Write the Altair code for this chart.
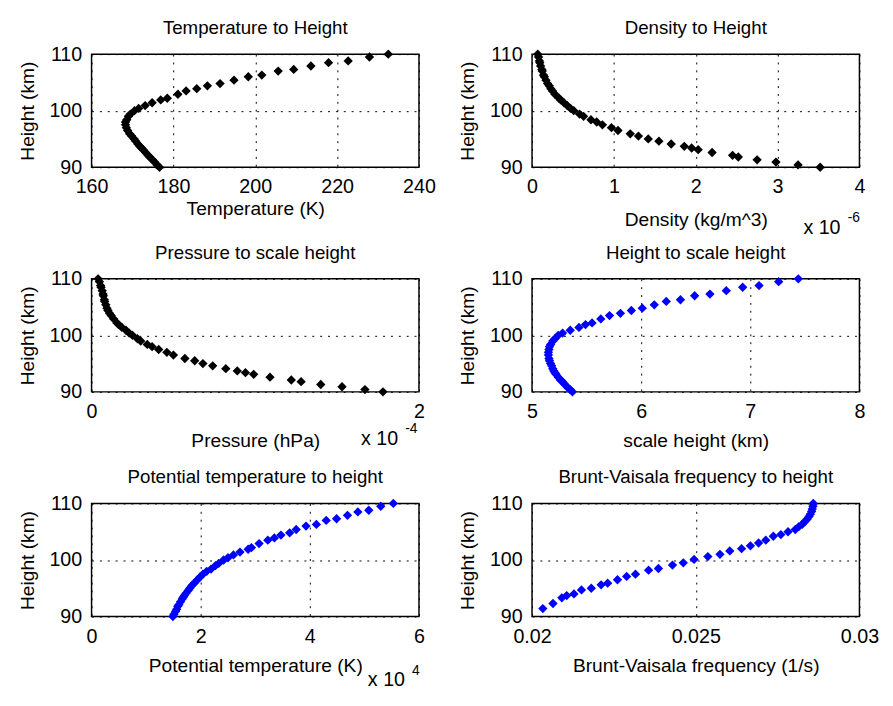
import altair as alt
import pandas as pd

# shared height grid (km)
heights = [90.0, 90.4, 90.9, 91.3, 91.8, 92.1, 92.6, 93.1, 93.4, 93.7, 94.1, 94.6, 95.0, 95.5, 95.9,
           96.5, 97.0, 97.5, 98.0, 98.4, 99.0, 99.4, 100.0, 100.4, 100.9, 101.4, 101.9, 102.2, 102.9,
           103.5, 103.9, 104.4, 104.8, 105.4, 106.0, 106.3, 107.0, 107.3, 107.9, 108.5, 108.8, 109.5, 110.0]
temperature = [176.6, 176.0, 175.4, 174.9, 174.2, 173.8, 173.2, 172.6, 172.2, 171.8, 171.3, 170.8, 170.4,
               169.8, 169.3, 168.8, 168.5, 168.3, 168.3, 168.6, 169.0, 169.5, 170.5, 171.5, 173.1, 174.8,
               176.9, 178.5, 181.1, 183.1, 185.7, 188.3, 191.4, 194.8, 198.3, 201.6, 205.6, 209.4, 213.6,
               217.9, 222.7, 227.9, 232.5]
density_e6 = [3.52, 3.25, 2.98, 2.75, 2.52, 2.45, 2.20, 2.03, 1.95, 1.86, 1.70, 1.55, 1.42, 1.30, 1.20,
              1.05, 0.97, 0.86, 0.79, 0.72, 0.63, 0.58, 0.51, 0.47, 0.43, 0.39, 0.35, 0.33, 0.28, 0.25,
              0.23, 0.21, 0.19, 0.17, 0.15, 0.14, 0.125, 0.12, 0.105, 0.095, 0.09, 0.08, 0.07]
pressure_e4 = [1.78, 1.67, 1.53, 1.40, 1.28, 1.22, 1.09, 0.99, 0.94, 0.89, 0.82, 0.74, 0.68, 0.63, 0.57,
               0.50, 0.46, 0.41, 0.37, 0.34, 0.30, 0.28, 0.25, 0.23, 0.21, 0.185, 0.165, 0.155, 0.135,
               0.12, 0.11, 0.10, 0.094, 0.087, 0.08, 0.078, 0.072, 0.07, 0.065, 0.058, 0.055, 0.048, 0.04]
scale_height = [5.37, 5.35, 5.32, 5.30, 5.28, 5.26, 5.24, 5.22, 5.21, 5.20, 5.19, 5.18, 5.17, 5.16, 5.155,
                5.15, 5.15, 5.155, 5.16, 5.17, 5.19, 5.21, 5.24, 5.28, 5.35, 5.43, 5.49, 5.55, 5.63, 5.71,
                5.81, 5.91, 6.01, 6.12, 6.23, 6.36, 6.49, 6.63, 6.78, 6.93, 7.08, 7.26, 7.44]
potential_e4 = [1.49, 1.51, 1.54, 1.56, 1.58, 1.60, 1.63, 1.66, 1.68, 1.70, 1.73, 1.77, 1.80, 1.84, 1.88,
                1.94, 1.99, 2.04, 2.11, 2.19, 2.27, 2.33, 2.42, 2.50, 2.60, 2.72, 2.87, 2.93, 3.07, 3.23,
                3.35, 3.47, 3.63, 3.75, 3.93, 4.12, 4.30, 4.49, 4.69, 4.88, 5.08, 5.30, 5.53]
bv_heights = [91.4, 92.3, 93.3, 93.7, 94.0, 94.7, 95.0, 95.6, 95.9, 96.5, 97.1, 97.5, 98.2, 98.5, 99.1,
              99.5, 100.1, 100.6, 101.0, 101.6, 102.0, 102.5, 103.0, 103.5, 104.2, 104.5, 105.0, 105.4,
              105.9, 106.3, 106.8, 107.2, 107.7, 108.1, 108.6, 109.0, 109.5, 110.0]
bv_freq = [0.02033, 0.02064, 0.02091, 0.02106, 0.02128, 0.02151, 0.02181, 0.02211, 0.02231, 0.02261,
           0.02289, 0.02316, 0.02356, 0.02386, 0.02429, 0.02462, 0.02495, 0.02537, 0.02574, 0.02604,
           0.0264, 0.02667, 0.02692, 0.02714, 0.02737, 0.0276, 0.02782, 0.02804, 0.02815, 0.02825,
           0.02833, 0.0284, 0.02846, 0.0285, 0.02854, 0.02856, 0.02858, 0.02859]

FONT = "Liberation Sans"
W, H = 333, 115
BLACK = "#000000"
BLUE = "#0000FF"


def panel(xvals, hvals, title, xtitle, domain, ticks, color, fmt, tpad, exponent=None):
    df = pd.DataFrame({"x": xvals, "h": hvals})
    pts = alt.Chart(df).mark_point(shape="diamond", filled=True, size=90, color=color, opacity=1).encode(
        x=alt.X("x:Q", scale=alt.Scale(domain=domain, nice=False, zero=False),
                axis=alt.Axis(values=ticks, format=fmt, title=xtitle, titlePadding=tpad,
                              labelFlush=False, labelPadding=10)),
        y=alt.Y("h:Q", scale=alt.Scale(domain=[90, 110], nice=False, zero=False),
                axis=alt.Axis(values=[90, 100, 110], format="d", title="Height (km)",
                              labelPadding=10, titlePadding=12, labelFlush=False)),
    )
    layers = [pts]
    if exponent:
        base_x, base_y, sup = exponent
        layers.append(alt.Chart(pd.DataFrame({"t": ["x 10"]})).mark_text(
            font=FONT, fontSize=20, align="left", baseline="alphabetic", color=BLACK
        ).encode(x=alt.value(base_x), y=alt.value(base_y), text="t:N"))
        layers.append(alt.Chart(pd.DataFrame({"t": [sup]})).mark_text(
            font=FONT, fontSize=14, align="left", baseline="alphabetic", color=BLACK
        ).encode(x=alt.value(base_x + 45), y=alt.value(base_y - 12), text="t:N"))
    return alt.layer(*layers).properties(
        width=W, height=H,
        title=alt.TitleParams(title, frame="group", baseline="alphabetic", offset=0, dy=8.5),
    )


p1 = panel(temperature, heights, "Temperature to Height", "Temperature (K)",
           [160, 240], [160, 180, 200, 220, 240], BLACK, "d", 3)
p2 = panel(density_e6, heights, "Density to Height", "Density (kg/m^3)",
           [0, 4], [0, 1, 2, 3, 4], BLACK, "d", 14, exponent=(276, 183, "-6"))
p3 = panel(pressure_e4, heights, "Pressure to scale height", "Pressure (hPa)",
           [0, 2], [0, 1, 2], BLACK, "d", 11, exponent=(274, 169, "-4"))
p4 = panel(scale_height, heights, "Height to scale height", "scale height (km)",
           [5, 8], [5, 6, 7, 8], BLUE, "d", 11)
p5 = panel(potential_e4, heights, "Potential temperature to height", "Potential temperature (K)",
           [0, 6], [0, 2, 4, 6], BLUE, "d", 11, exponent=(281, 186, "4"))
p6 = panel(bv_freq, bv_heights, "Brunt-Vaisala frequency to height", "Brunt-Vaisala frequency (1/s)",
           [0.02, 0.03], [0.02, 0.025, 0.03], BLUE, "~g", 11)

chart = alt.concat(
    p1, p2, p3, p4, p5, p6, columns=2,
    spacing={"row": 113.5, "column": 115}, bounds="flush",
).properties(
    padding={"left": 8, "top": 4, "right": 5, "bottom": 5},
    background="white",
).configure_view(
    stroke=BLACK, strokeWidth=1.5, fill="white",
).configure_axis(
    domain=False, ticks=False, tickSize=0,
    grid=True, gridColor=BLACK, gridDash=[2, 6], gridWidth=1, gridOpacity=1,
    labelFont=FONT, labelFontSize=20, labelColor=BLACK,
    titleFont=FONT, titleFontSize=19.5, titleFontWeight="normal", titleColor=BLACK,
).configure_title(
    font=FONT, fontSize=19, fontWeight="normal", color=BLACK, anchor="middle",
)

chart.save("out.html", embed_options={"renderer": "svg", "actions": False})
